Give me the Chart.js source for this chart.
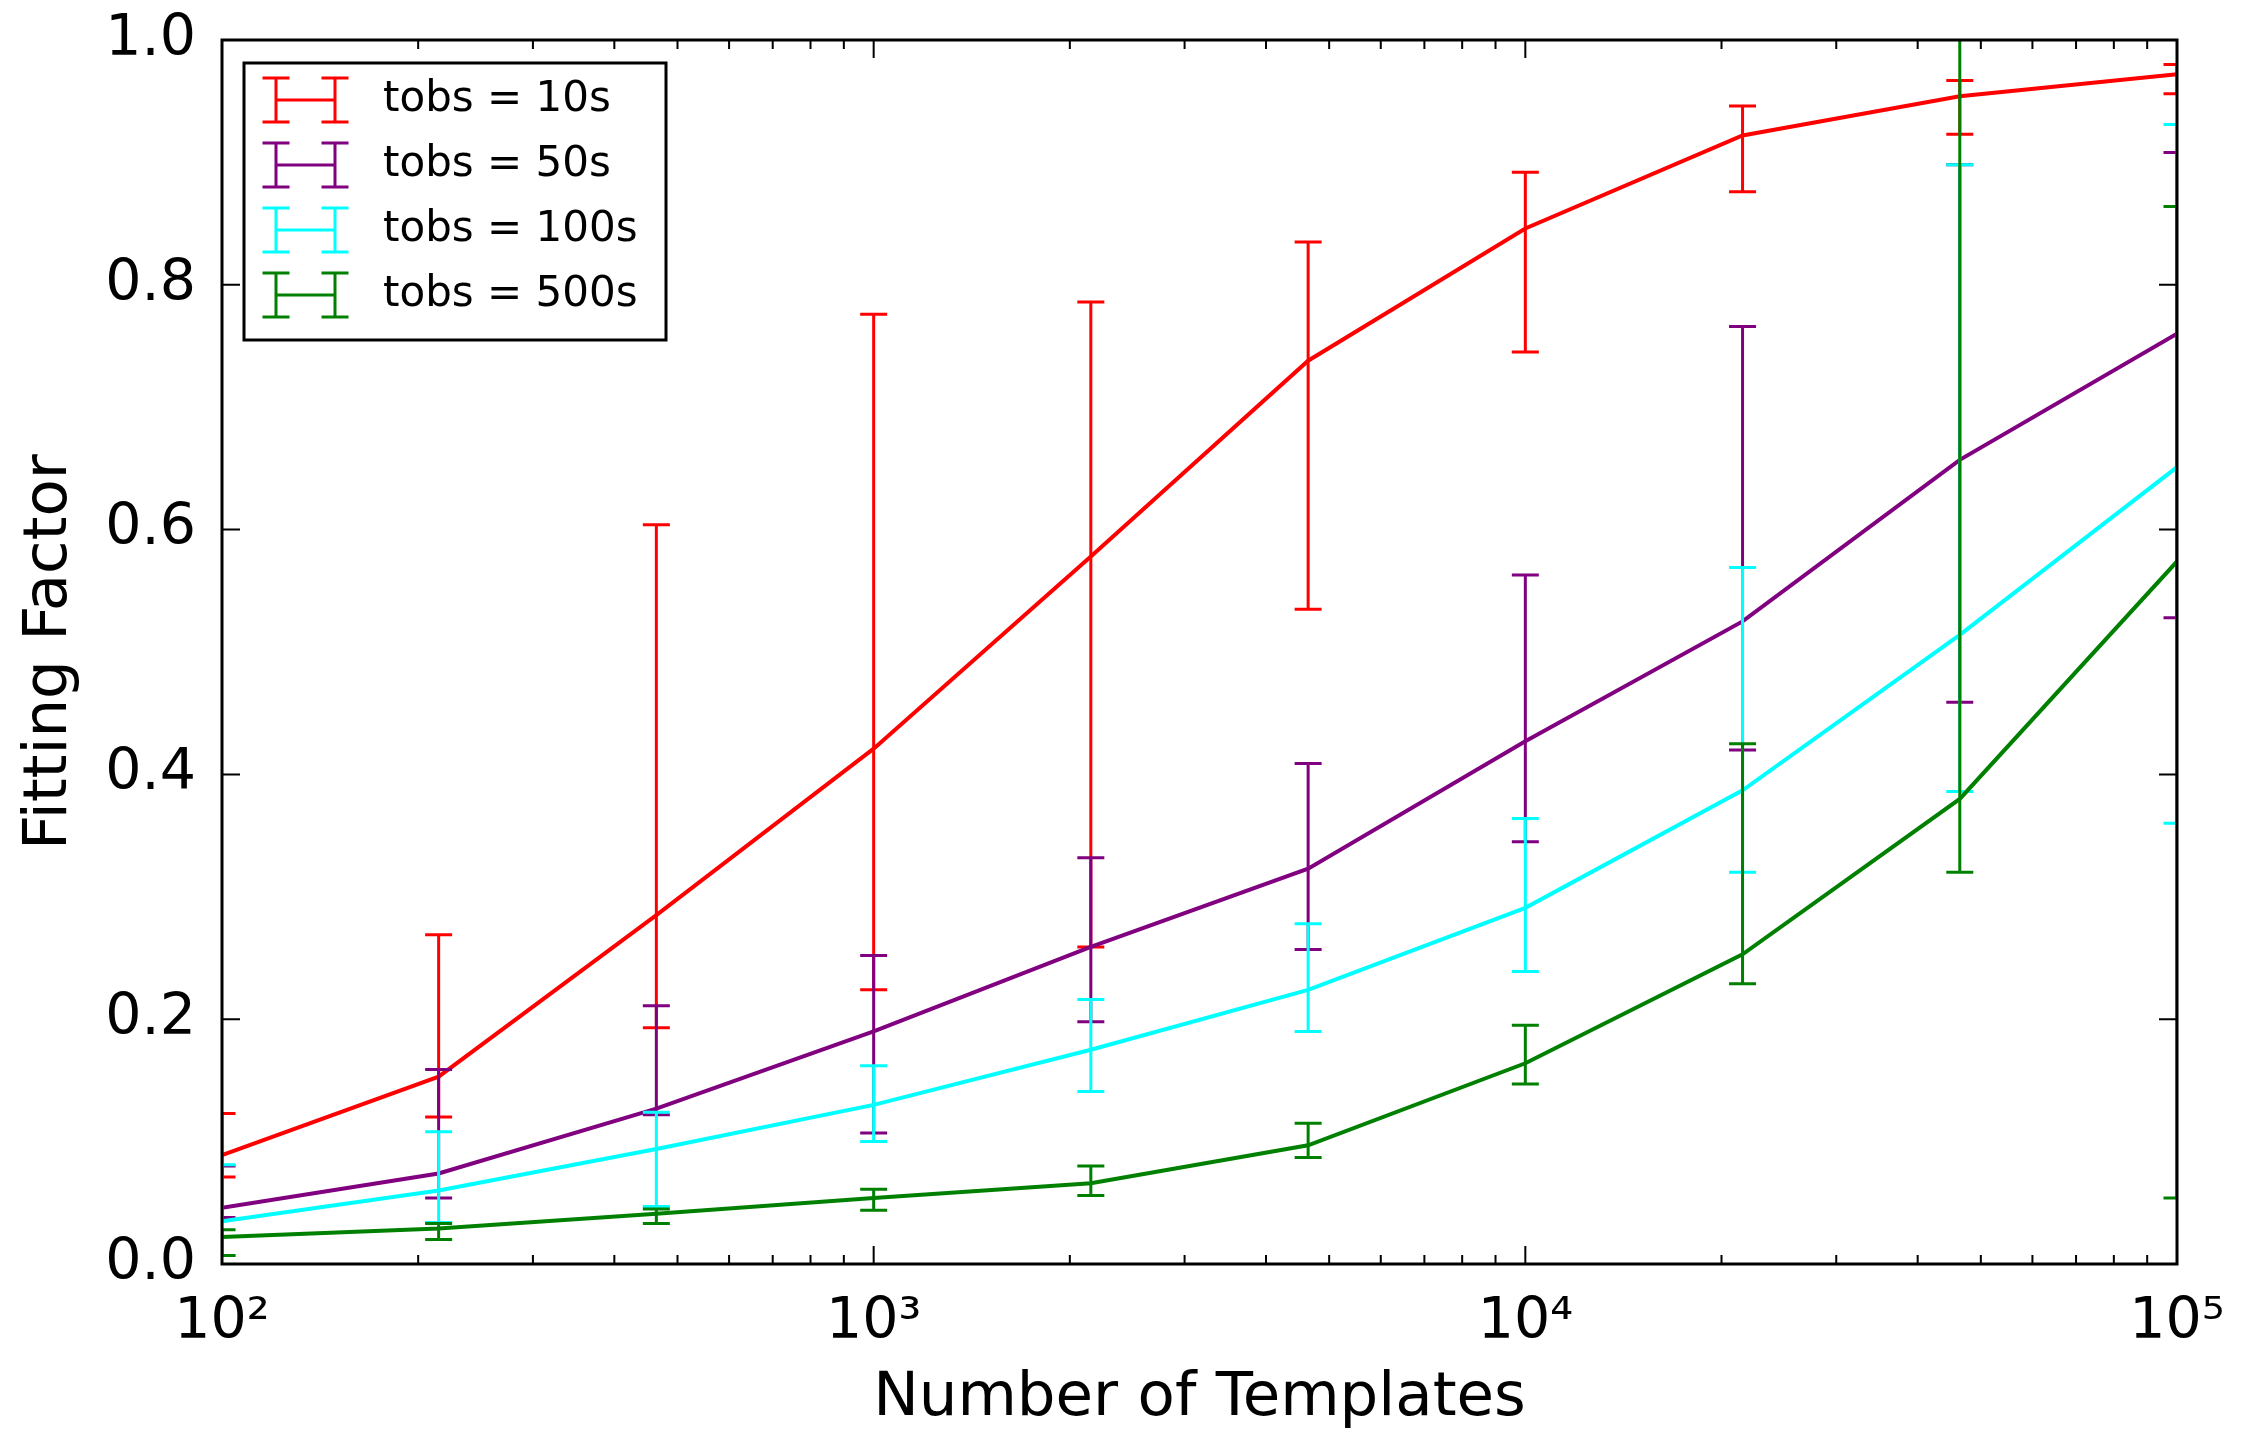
<!DOCTYPE html>
<html>
<head>
<meta charset="utf-8">
<script src="https://cdn.jsdelivr.net/npm/chart.js@4.4.1/dist/chart.umd.min.js"></script>
<style>
  html, body { margin: 0; padding: 0; background: #fff; }
</style>
</head>
<body>
<canvas id="myChart" width="2250" height="1437"></canvas>
<script>
'use strict'

// Data
const templates = [100, 215, 464, 1000, 2154, 4642, 10000, 21544, 46416, 100000];

const ff10 = [0.089, 0.153, 0.285, 0.421, 0.578, 0.738, 0.846, 0.922, 0.954, 0.972];
const lo10 = [0.071, 0.120, 0.193, 0.224, 0.259, 0.535, 0.745, 0.876, 0.923, 0.956];
const hi10 = [0.123, 0.269, 0.604, 0.776, 0.786, 0.835, 0.892, 0.946, 0.967, 0.980];

const ff50 = [0.046, 0.074, 0.127, 0.190, 0.259, 0.323, 0.427, 0.525, 0.657, 0.760];
const lo50 = [0.038, 0.054, 0.122, 0.107, 0.198, 0.257, 0.345, 0.420, 0.459, 0.528];
const hi50 = [0.080, 0.159, 0.211, 0.252, 0.332, 0.409, 0.563, 0.766, 0.898, 0.908];

const ff100 = [0.035, 0.060, 0.094, 0.130, 0.175, 0.224, 0.291, 0.387, 0.514, 0.651];
const lo100 = [0.007, 0.034, 0.047, 0.100, 0.141, 0.190, 0.239, 0.320, 0.386, 0.360];
const hi100 = [0.081, 0.108, 0.124, 0.162, 0.216, 0.278, 0.364, 0.569, 0.898, 0.931];

const ff500 = [0.022, 0.029, 0.041, 0.054, 0.066, 0.097, 0.164, 0.253, 0.380, 0.574];
const lo500 = [0.007, 0.020, 0.033, 0.044, 0.056, 0.087, 0.147, 0.229, 0.320, 0.054];
const hi500 = [0.028, 0.033, 0.045, 0.061, 0.080, 0.115, 0.195, 0.425, 1.050, 0.864];

const seriesLabels = ['tobs = 10s', 'tobs = 50s', 'tobs = 100s', 'tobs = 500s'];
const seriesColors = ['#ff0000', '#800080', '#00ffff', '#008000'];

const xTicks = [100, 1000, 10000, 100000];
const xTickLabels = ['10\u00b2', '10\u00b3', '10\u2074', '10\u2075'];
const yTicks = [0, 0.2, 0.4, 0.6, 0.8, 1.0];
const yTickLabels = ['0.0', '0.2', '0.4', '0.6', '0.8', '1.0'];

const capHalf = 13.5;

function makeSeries(i, values, lows, highs) {
  return {
    label: seriesLabels[i],
    data: templates.map((t, k) => ({x: t, y: values[k]})),
    errLo: lows,
    errHi: highs,
    borderColor: seriesColors[i],
    backgroundColor: seriesColors[i],
    borderWidth: 4,
    pointRadius: 0,
    tension: 0,
    fill: false,
    order: 4 - i
  };
}

// draws the error bars for each series right after its line
const errorBarPlugin = {
  id: 'errorBars',
  afterDatasetDraw(chart, args) {
    const ds = chart.data.datasets[args.index];
    const xs = chart.scales.x;
    const ys = chart.scales.y;
    const ctx = chart.ctx;
    const area = chart.chartArea;
    ctx.save();
    ctx.beginPath();
    ctx.rect(area.left, area.top, area.right - area.left, area.bottom - area.top);
    ctx.clip();
    ctx.strokeStyle = ds.borderColor;
    ctx.lineWidth = 3;
    for (let i = 0; i < ds.data.length; i++) {
      const px = xs.getPixelForValue(ds.data[i].x);
      const top = ys.getPixelForValue(ds.errHi[i]);
      const bot = ys.getPixelForValue(ds.errLo[i]);
      ctx.beginPath();
      ctx.moveTo(px, top);
      ctx.lineTo(px, bot);
      ctx.moveTo(px - capHalf, top);
      ctx.lineTo(px + capHalf, top);
      ctx.moveTo(px - capHalf, bot);
      ctx.lineTo(px + capHalf, bot);
      ctx.stroke();
    }
    ctx.restore();
  }
};

// frame, inward ticks on all sides, legend box
const framePlugin = {
  id: 'frame',
  afterDraw(chart) {
    const ctx = chart.ctx;
    const xs = chart.scales.x;
    const ys = chart.scales.y;
    const a = chart.chartArea;
    ctx.save();
    ctx.strokeStyle = '#000';
    ctx.lineWidth = 2;
    ctx.beginPath();
    // x ticks, major and minor
    for (let dec = 100; dec <= 100000; dec *= 10) {
      for (let m = 1; m < 10; m++) {
        const v = dec * m;
        if (v > 100000) break;
        const px = xs.getPixelForValue(v);
        const len = m === 1 ? 18 : 9;
        ctx.moveTo(px, a.bottom);
        ctx.lineTo(px, a.bottom - len);
        ctx.moveTo(px, a.top);
        ctx.lineTo(px, a.top + len);
      }
    }
    yTicks.forEach(v => {
      const py = ys.getPixelForValue(v);
      ctx.moveTo(a.left, py);
      ctx.lineTo(a.left + 18, py);
      ctx.moveTo(a.right, py);
      ctx.lineTo(a.right - 18, py);
    });
    ctx.stroke();

    ctx.lineWidth = 3;
    ctx.strokeRect(a.left, a.top, a.right - a.left, a.bottom - a.top);

    // legend
    const lx = 244, ly = 63, lw = 422, lh = 277;
    ctx.fillStyle = '#fff';
    ctx.fillRect(lx, ly, lw, lh);
    ctx.strokeRect(lx, ly, lw, lh);
    ctx.font = '42px "DejaVu Sans"';
    ctx.textBaseline = 'middle';
    ctx.textAlign = 'left';
    for (let i = 0; i < seriesLabels.length; i++) {
      const cy = 100 + i * 65;
      const x1 = 276, x2 = 335, hh = 22;
      ctx.strokeStyle = seriesColors[i];
      ctx.lineWidth = 3;
      ctx.beginPath();
      ctx.moveTo(x1, cy); ctx.lineTo(x2, cy);
      ctx.moveTo(x1, cy - hh); ctx.lineTo(x1, cy + hh);
      ctx.moveTo(x2, cy - hh); ctx.lineTo(x2, cy + hh);
      ctx.moveTo(x1 - capHalf, cy - hh); ctx.lineTo(x1 + capHalf, cy - hh);
      ctx.moveTo(x1 - capHalf, cy + hh); ctx.lineTo(x1 + capHalf, cy + hh);
      ctx.moveTo(x2 - capHalf, cy - hh); ctx.lineTo(x2 + capHalf, cy - hh);
      ctx.moveTo(x2 - capHalf, cy + hh); ctx.lineTo(x2 + capHalf, cy + hh);
      ctx.stroke();
      ctx.fillStyle = '#000';
      ctx.fillText(seriesLabels[i], 383, cy);
    }
    ctx.restore();
  }
};

Chart.defaults.font.family = '"DejaVu Sans"';
Chart.defaults.color = '#000';

const config = {
  type: 'line',
  data: {
    datasets: [
      makeSeries(0, ff10, lo10, hi10),
      makeSeries(1, ff50, lo50, hi50),
      makeSeries(2, ff100, lo100, hi100),
      makeSeries(3, ff500, lo500, hi500)
    ]
  },
  options: {
    responsive: false,
    animation: false,
    devicePixelRatio: 1,
    layout: { padding: { left: 0, right: 73, top: 40, bottom: 0 } },
    plugins: {
      legend: { display: false },
      tooltip: { enabled: false }
    },
    scales: {
      x: {
        type: 'logarithmic',
        min: 100,
        max: 100000,
        afterBuildTicks: axis => { axis.ticks = xTicks.map(v => ({value: v})); },
        afterFit: axis => {
          axis.height = 173;
          axis.paddingLeft = 0;
          axis.paddingRight = 0;
        },
        grid: { display: false, drawTicks: false, tickLength: 0 },
        border: { display: false },
        ticks: {
          autoSkip: false,
          maxRotation: 0,
          padding: 25,
          font: { size: 57 },
          callback: (v, i) => xTickLabels[i]
        },
        title: {
          display: true,
          text: 'Number of Templates',
          font: { size: 61 },
          padding: { top: 0, bottom: 1 }
        }
      },
      y: {
        type: 'linear',
        min: 0,
        max: 1,
        afterBuildTicks: axis => { axis.ticks = yTicks.map(v => ({value: v})); },
        afterFit: axis => {
          axis.width = 222;
          axis.paddingTop = 0;
          axis.paddingBottom = 0;
        },
        grid: { display: false, drawTicks: false, tickLength: 0 },
        border: { display: false },
        ticks: {
          padding: 26,
          font: { size: 57 },
          callback: (v, i) => yTickLabels[i]
        },
        title: {
          display: true,
          text: 'Fitting Factor',
          font: { size: 61 },
          padding: { top: 14, bottom: 0 }
        }
      }
    }
  },
  plugins: [errorBarPlugin, framePlugin]
};

const canvasChart = document.getElementById('myChart');
const myChart = new Chart(canvasChart, config);
</script>
</body>
</html>
